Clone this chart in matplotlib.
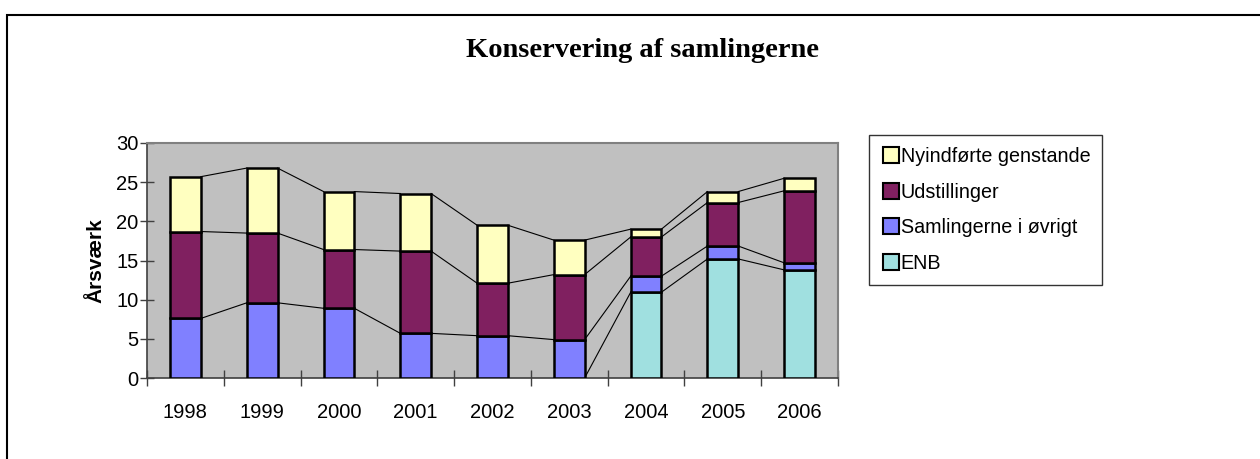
import numpy as np
import matplotlib.pyplot as plt
from matplotlib.lines import Line2D

# data
years = ["1998", "1999", "2000", "2001", "2002", "2003", "2004", "2005", "2006"]
enb = [0, 0, 0, 0, 0, 0, 10.95, 15.2, 13.8]
samlinger = [7.6, 9.6, 8.9, 5.7, 5.4, 4.9, 2.05, 1.65, 0.9]
udstillinger = [11.1, 8.9, 7.5, 10.5, 6.7, 8.3, 5.0, 5.55, 9.2]
nyindforte = [7.0, 8.3, 7.4, 7.35, 7.4, 4.4, 1.0, 1.4, 1.6]

series = [
    ("ENB", enb, "#A0E0E0"),
    ("Samlingerne i øvrigt", samlinger, "#8080FF"),
    ("Udstillinger", udstillinger, "#802060"),
    ("Nyindførte genstande", nyindforte, "#FFFFC0"),
]

plt.rcParams['font.family'] = ['Liberation Sans', 'DejaVu Sans']

fig = plt.figure(figsize=(12.6, 4.59), dpi=100)
ax = fig.add_axes([147 / 1260, 1 - 378 / 459, (838 - 147) / 1260, (378 - 143) / 459])
ax.set_facecolor("#C0C0C0")

x = np.arange(len(years))
w = 0.4
bottom = np.zeros(len(years))
handles = []
for name, vals, col in series:
    vals = np.array(vals)
    ax.bar(x, vals, w, bottom=bottom, color=col, edgecolor="black", linewidth=1.8, zorder=3)
    bottom = bottom + vals
    # series lines between bars
    for i in range(len(years) - 1):
        ax.plot([x[i] + w / 2, x[i + 1] - w / 2], [bottom[i], bottom[i + 1]],
                color="black", linewidth=0.8, zorder=2)
    handles.append((name, col))

ax.set_xlim(-0.5, len(years) - 0.5)
ax.set_ylim(0, 30)
ax.set_yticks(range(0, 31, 5))
ax.set_xticks(x)
ax.set_xticklabels(years)
ax.set_xticks(np.arange(-0.5, len(years)), minor=True)
ax.tick_params(axis="x", which="major", length=0, labelsize=14.5, pad=18)
ax.tick_params(axis="x", which="minor", length=12, width=1, color="#404040", direction="inout")
ax.tick_params(axis="y", length=10, width=1, color="#404040", labelsize=14.5, pad=1,
               direction="inout")

for s in ["top", "right"]:
    ax.spines[s].set_color("#808080")
    ax.spines[s].set_linewidth(1.5)
for s in ["left", "bottom"]:
    ax.spines[s].set_color("#404040")
    ax.spines[s].set_linewidth(1.2)

ax.set_ylabel("Årsværk", fontsize=15, fontweight="bold", labelpad=8)

fig.text(642 / 1260, 1 - 57 / 459, "Konservering af samlingerne", ha="center", va="baseline",
         fontsize=20.5, fontweight="bold", family="Liberation Serif")

legend_handles = [Line2D([0], [0], marker="s", linestyle="none", markersize=11,
                         markerfacecolor=col, markeredgecolor="black", markeredgewidth=1.5)
                  for name, col in reversed(handles)]
legend_labels = [name for name, col in reversed(handles)]
leg = fig.legend(legend_handles, legend_labels, loc="upper left",
                 bbox_to_anchor=(869 / 1260, 1 - 135 / 459), fontsize=14.2,
                 frameon=True, fancybox=False, handletextpad=0.0,
                 handlelength=1.0, labelspacing=0.85, borderpad=0.6, borderaxespad=0)
leg.get_frame().set_edgecolor("black")
leg.get_frame().set_linewidth(1.0)

# outer chart frame (extends past the image at right and bottom)
fig.add_artist(plt.Rectangle((7 / 1260, -0.1), 1.2, 1 - 15 / 459 + 0.1,
                             transform=fig.transFigure, fill=False,
                             edgecolor="black", linewidth=1.5))

fig.savefig("out.png", dpi=100)
